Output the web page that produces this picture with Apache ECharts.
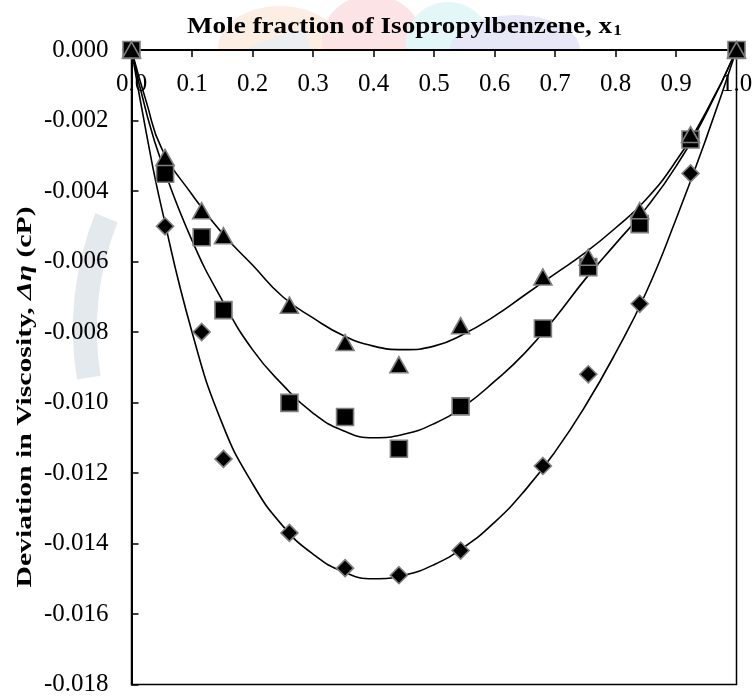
<!DOCTYPE html>
<html><head><meta charset="utf-8">
<script src="https://cdn.jsdelivr.net/npm/echarts@6/dist/echarts.min.js"></script>
<style>html,body{margin:0;padding:0;background:#fff}#c{width:756px;height:697px}</style>
</head><body><div id="c"></div>
<script>
// Observed points (mole fraction x1 and deviation in viscosity, cP)
const xObs = [0, 0.0555, 0.116, 0.152, 0.261, 0.353, 0.442, 0.544, 0.680, 0.755, 0.840, 0.924, 1.0];
const triObs = [0, -0.00305, -0.00456, -0.00527, -0.00724, -0.00830, -0.00893, -0.00782, -0.00644, -0.00588, -0.00456, -0.00240, 0];
const sqObs = [0, -0.00351, -0.00531, -0.00738, -0.01001, -0.01041, -0.01131, -0.01011, -0.00790, -0.00616, -0.00494, -0.00254, 0];
const diaObs = [0, -0.00500, -0.00800, -0.01160, -0.01370, -0.01470, -0.01490, -0.01420, -0.01180, -0.00920, -0.00720, -0.00350, 0];

// Fitted curves
const fitX = [0, 0.025, 0.05, 0.1, 0.15, 0.2, 0.25, 0.3, 0.35, 0.4, 0.45, 0.5, 0.55, 0.6, 0.65, 0.7, 0.75, 0.8, 0.85, 0.9, 0.95, 1.0];
const triFit = [0, -0.0015, -0.0028, -0.0041, -0.0052, -0.0061, -0.0070, -0.0076, -0.0081, -0.0084, -0.0085, -0.0084, -0.00805, -0.00755, -0.00695, -0.00635, -0.00575, -0.00505, -0.00425, -0.00315, -0.00175, 0];
const sqFit = [0, -0.0018, -0.0032, -0.0054, -0.0071, -0.0085, -0.0095, -0.0103, -0.0108, -0.0110, -0.0109, -0.0106, -0.0101, -0.0094, -0.0086, -0.0076, -0.0065, -0.0055, -0.0045, -0.0033, -0.0018, 0];
const diaFit = [0, -0.0024, -0.0045, -0.0080, -0.0106, -0.0123, -0.0135, -0.0143, -0.0148, -0.0150, -0.0149, -0.0146, -0.0141, -0.0134, -0.0125, -0.0114, -0.0101, -0.0086, -0.0069, -0.0048, -0.0025, 0];

const xTitle = 'Mole fraction of Isopropylbenzene, x';
const xTitleSub = '1';
const yTitleA = 'Deviation in Viscosity, ';
const yTitleB = 'Δη';
const yTitleC = ' (cP)';

const pair = (xs, ys) => xs.map((x, i) => [x, ys[i]]);
const F = "'Liberation Serif','Times New Roman',serif";
const chart = echarts.init(document.getElementById('c'), null, {renderer: 'canvas'});

const markerStyle = {color: '#000', opacity: 1, borderColor: '#7f7f7f', borderWidth: 1.6};
const lineStyle = {color: '#000', width: 1.6};
const WM = '#e4e9ed';

const option = {
  animation: false,
  backgroundColor: '#fff',
  graphic: [
    // faint background watermark (only visible in the margins)
    {type: 'ellipse', z: -10, shape: {cx: 280, cy: 48, rx: 62, ry: 42}, style: {fill: '#fdeee3'}},
    {type: 'ellipse', z: -10, shape: {cx: 372, cy: 40, rx: 50, ry: 45}, style: {fill: '#fce3e6'}},
    {type: 'ellipse', z: -10, shape: {cx: 448, cy: 42, rx: 42, ry: 40}, style: {fill: '#e3f6f8'}},
    {type: 'ellipse', z: -10, shape: {cx: 515, cy: 50, rx: 65, ry: 35}, style: {fill: '#e6e8f7'}},
    {type: 'arc', z: -10, shape: {cx: 390, cy: 330, r: 305, startAngle: Math.PI * 0.95, endAngle: Math.PI * 1.12}, style: {stroke: WM, lineWidth: 24, fill: null}},
    {type: 'arc', z: -10, shape: {cx: 390, cy: 330, r: 270, startAngle: Math.PI * 1.2, endAngle: Math.PI * 1.3}, style: {stroke: WM, lineWidth: 18, fill: null}},
    {type: 'arc', z: -10, shape: {cx: 390, cy: 360, r: 330, startAngle: Math.PI * 1.33, endAngle: Math.PI * 1.42}, style: {stroke: '#eceff2', lineWidth: 26, fill: null}},
    {type: 'arc', z: -10, shape: {cx: 390, cy: 360, r: 330, startAngle: Math.PI * 1.66, endAngle: Math.PI * 1.8}, style: {stroke: '#eceff2', lineWidth: 26, fill: null}},
    // white plot area on top of the watermark
    {type: 'rect', z: -9, shape: {x: 131.5, y: 50, width: 605, height: 637}, style: {fill: '#fff'}},
    {
      type: 'text', z: 10, x: 187, y: 39, scaleX: 1.13,
      style: {
        text: '{b|' + xTitle + '}{s|' + xTitleSub + '}',
        align: 'left', verticalAlign: 'bottom',
        rich: {
          b: {fontFamily: F, fontWeight: 'bold', fontSize: 24, fill: '#000', lineHeight: 26, verticalAlign: 'bottom'},
          s: {fontFamily: F, fontWeight: 'bold', fontSize: 15, fill: '#000', lineHeight: 13, verticalAlign: 'bottom', padding: [0, 0, 0, 1]}
        }
      }
    },
    {
      type: 'text', z: 10, x: 25, y: 397, rotation: Math.PI / 2, scaleX: 1.35,
      style: {
        text: '{b|' + yTitleA + '}{i|' + yTitleB + '}{b|' + yTitleC + '}',
        align: 'center', verticalAlign: 'middle',
        rich: {
          b: {fontFamily: F, fontWeight: 'bold', fontSize: 22, fill: '#000'},
          i: {fontFamily: F, fontWeight: 'bold', fontStyle: 'italic', fontSize: 22, fill: '#000'}
        }
      }
    }
  ],
  grid: {left: 131.5, right: 19.5, top: 50, bottom: 10, show: true, backgroundColor: 'transparent', borderColor: '#000', borderWidth: 1.5},
  xAxis: {
    type: 'value', position: 'top', min: 0, max: 1, interval: 0.1,
    axisLine: {onZero: false, lineStyle: {color: '#000', width: 2}},
    axisTick: {inside: true, length: 7, lineStyle: {color: '#000', width: 1.5}},
    axisLabel: {inside: true, margin: 22, fontFamily: F, fontSize: 25, color: '#000', formatter: v => v.toFixed(1)},
    splitLine: {show: false}
  },
  yAxis: {
    type: 'value', min: -0.018, max: 0, interval: 0.002,
    axisLine: {show: true, onZero: false, lineStyle: {color: '#000', width: 2}},
    axisTick: {show: true, inside: true, length: 7, lineStyle: {color: '#000', width: 1.5}},
    axisLabel: {margin: 23, fontFamily: F, fontSize: 25, color: '#000', formatter: v => v.toFixed(3)},
    splitLine: {show: false}
  },
  series: [
    {type: 'line', data: pair(fitX, diaFit), smooth: 0.5, showSymbol: false, lineStyle: lineStyle, z: 2},
    {type: 'line', data: pair(fitX, sqFit), smooth: 0.5, showSymbol: false, lineStyle: lineStyle, z: 2},
    {type: 'line', data: pair(fitX, triFit), smooth: 0.5, showSymbol: false, lineStyle: lineStyle, z: 2},
    {type: 'scatter', data: pair(xObs, diaObs), symbol: 'diamond', symbolSize: [17, 17], itemStyle: markerStyle, z: 3},
    {type: 'scatter', data: pair(xObs, sqObs), symbol: 'rect', symbolSize: [17, 17], itemStyle: markerStyle, z: 4},
    {type: 'scatter', data: pair(xObs, triObs), symbol: 'triangle', symbolSize: [18, 16], itemStyle: markerStyle, z: 5}
  ]
};
chart.setOption(option);
</script>
</body></html>
